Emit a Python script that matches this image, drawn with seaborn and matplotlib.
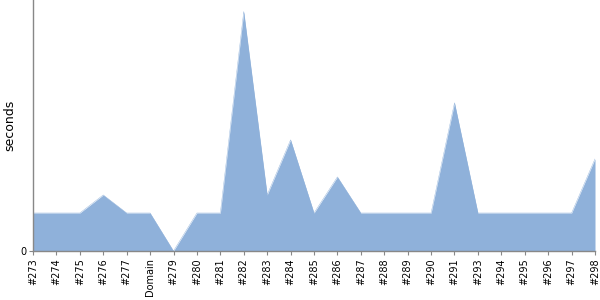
import matplotlib
matplotlib.use("Agg")
import matplotlib.pyplot as plt
import seaborn as sns
import pandas as pd

builds = ["#273", "#274", "#275", "#276", "#277", "Domain", "#279", "#280", "#281",
          "#282", "#283", "#284", "#285", "#286", "#287", "#288", "#289", "#290",
          "#291", "#293", "#294", "#295", "#296", "#297", "#298"]
seconds = [2, 2, 2, 2.95, 2, 2, 0, 2, 2,
           12.6, 2.95, 5.85, 2, 3.9, 2, 2, 2, 2,
           7.8, 2, 2, 2, 2, 2, 4.85]

df = pd.DataFrame({"build": builds, "seconds": seconds})
df["pos"] = range(len(df))

sns.set_style("white")
plt.rcParams["font.family"] = ["DejaVu Sans"]
plt.rcParams["text.color"] = "black"
plt.rcParams["xtick.color"] = "black"
plt.rcParams["ytick.color"] = "black"

fig = plt.figure(figsize=(6, 3), dpi=100)
ax = fig.add_axes([33 / 600, 49 / 300, 562 / 600, 251 / 300])

color = "#8fb1da"
sns.lineplot(data=df, x="pos", y="seconds", ax=ax, color=color, linewidth=0.3)
ax.fill_between(df["pos"], 0, df["seconds"], color=color, linewidth=0)

ax.set_xlim(0, len(df) - 1)
ax.set_ylim(0, 251 / 19)
ax.set_xticks(df["pos"])
ax.set_xticklabels(df["build"], rotation=90, fontsize=7)
ax.set_yticks([0])
ax.set_yticklabels(["0"], fontsize=7)
ax.set_xlabel("")
ax.set_ylabel("")
fig.text(10 / 600, 1 - 125 / 300, "seconds", rotation=90, ha="center", va="center",
         fontsize=9, color="black")

for s in ["top", "right"]:
    ax.spines[s].set_visible(False)
for s in ["left", "bottom"]:
    ax.spines[s].set_color("#888888")
    ax.spines[s].set_linewidth(1)
ax.tick_params(axis="both", length=3, color="#888888", pad=2, bottom=True, left=True)

fig.savefig("out.png", dpi=100)
